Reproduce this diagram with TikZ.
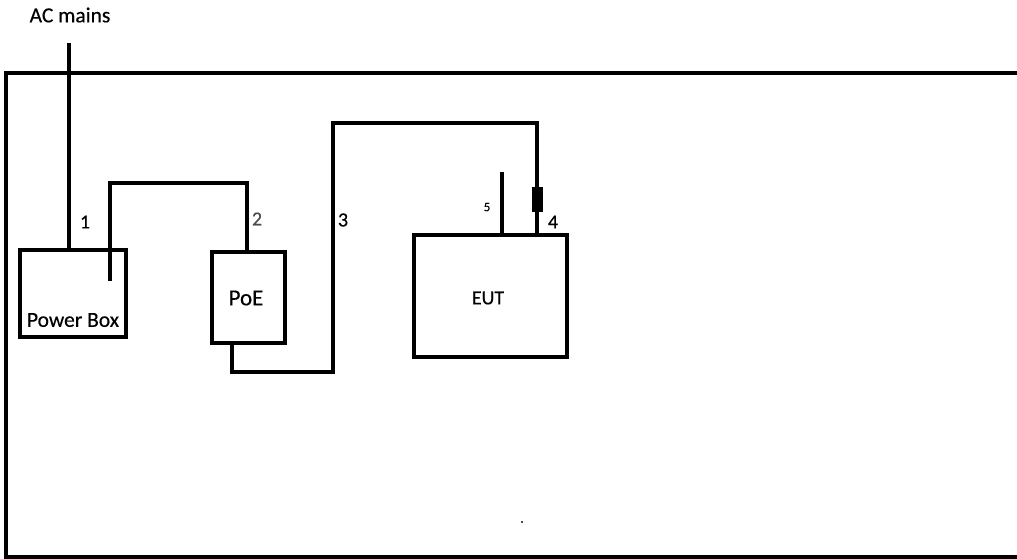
\documentclass[tikz,border=0pt]{standalone}
\usepackage{fontspec}
\setmainfont{Carlito}[FakeBold=0.4]
\begin{document}
\begin{tikzpicture}[x=1pt,y=-1pt,
  wire/.style={line width=4pt},
  box/.style={draw,line width=4pt,inner sep=0pt,outer sep=0pt,anchor=north west},
  lbl/.style={inner sep=0pt,font=\fontsize{20}{24}\selectfont},
  slbl/.style={inner sep=0pt,font=\fontsize{13}{15}\selectfont}]
\useasboundingbox (0,0) rectangle (1017,558);
% frame
\draw[wire] (1017,72.5) -- (6,72.5) -- (6,556.5) -- (1017,556.5);
% boxes
\node[box,minimum width=106pt,minimum height=87pt] (pb) at (20,250) {};
\node[box,minimum width=73pt,minimum height=91pt] (poe) at (212,252) {};
\node[box,minimum width=153pt,minimum height=122pt] (eut) at (414,235) {};
% texts
\node[lbl,font=\fontsize{21.5}{24}\selectfont] (acl) at (70,15) {AC mains};
\node[lbl,font=\fontsize{21.5}{24}\selectfont] (pbl) at (73,320) {Power Box};
\node[lbl,font=\fontsize{23}{26}\selectfont] (poel) at (246,298) {PoE};
\node[lbl] (eutl) at (488,298) {EUT};
\node[lbl] (n1) at (85,222) {1};
\node[lbl,text=black!70] (n2) at (257,219) {2};
\node[lbl] (n3) at (343,220) {3};
\node[lbl] (n4) at (553,222) {4};
\node[slbl] (n5) at (487,207) {5};
% AC mains cable
\coordinate (ac) at (69,43);
\draw[wire] (ac) -- (ac |- pb.north);
% cable 1-2
\coordinate (c1) at (110,281);
\coordinate (t1) at (110,183);
\draw[wire] (c1) -- (t1) -| ([xshift=-1.5pt]poe.north);
% cable 3-4
\coordinate (c3a) at (333,372);
\coordinate (c3b) at (333,123);
\coordinate (c3c) at (537,123);
\draw[wire] ([xshift=-16.5pt]poe.south) |- (c3a) -- (c3b) -- (c3c) -- (c3c |- eut.north);
% ferrite
\node[fill=black,minimum width=11pt,minimum height=25pt,inner sep=0pt] (fer) at (537,199.5) {};
% antenna 5
\coordinate (ant) at (502,172);
\draw[line width=3.5pt] (ant) -- (ant |- eut.north);
% stray dot
\node[fill=black!70,minimum size=2pt,inner sep=0pt] (dot) at (522,522) {};
\end{tikzpicture}
\end{document}
